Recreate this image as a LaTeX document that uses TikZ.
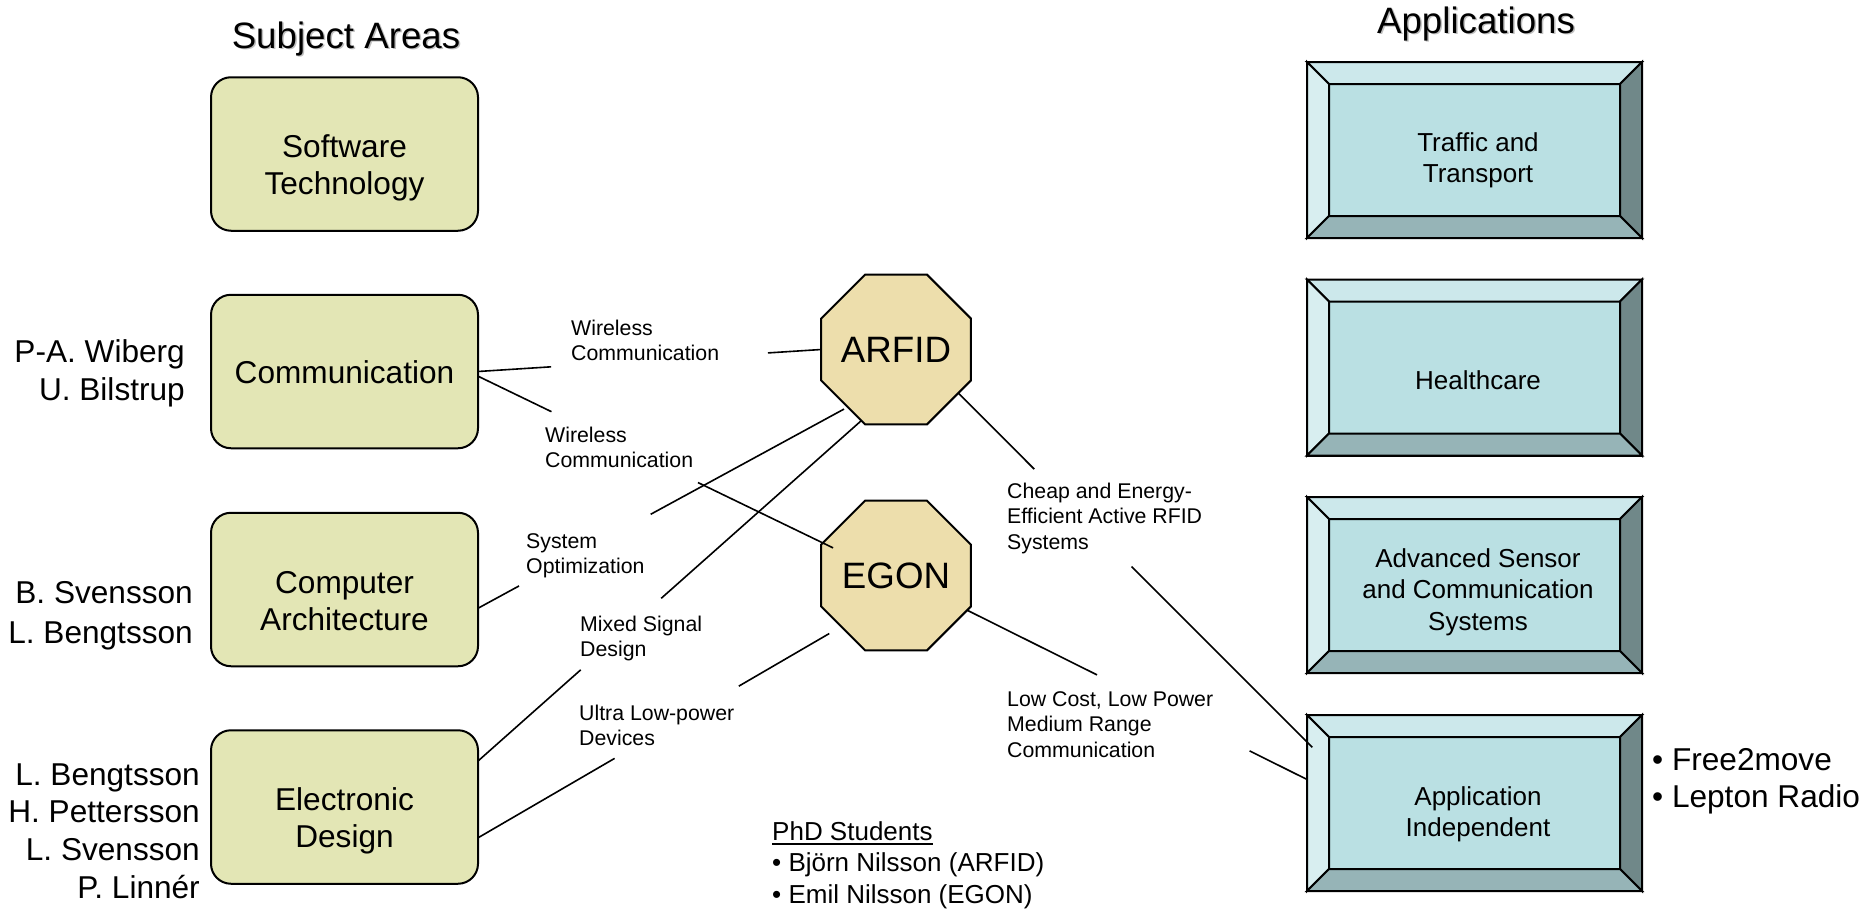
\documentclass[tikz,border=0pt]{standalone}
\usepackage{fontspec}
\setmainfont{Liberation Sans}
\usetikzlibrary{shapes.geometric,calc}
\definecolor{subjfill}{RGB}{227,230,181}
\definecolor{octfill}{RGB}{237,222,172}
\definecolor{appface}{RGB}{186,224,227}
\definecolor{apptop}{RGB}{204,232,235}
\definecolor{appleft}{RGB}{216,238,240}
\definecolor{appbottom}{RGB}{150,180,183}
\definecolor{appright}{RGB}{112,136,137}
\newcommand\mytab[2]{\begin{tabular}[t]{@{}#1@{}}#2\end{tabular}}
\newcommand\myul[1]{\setbox0\hbox{#1}\rlap{\rule[-5pt]{\wd0}{1.7pt}}\box0}
\newcommand\bevel[1]{%
 \filldraw[bevelline,fill=apptop] (#1.north west) -- (#1.north east) -- ([shift={(-22,22)}]#1.north east) -- ([shift={(22,22)}]#1.north west) -- cycle;
 \filldraw[bevelline,fill=appleft] (#1.north west) -- ([shift={(22,22)}]#1.north west) -- ([shift={(22,-22)}]#1.south west) -- (#1.south west) -- cycle;
 \filldraw[bevelline,fill=appright] (#1.north east) -- (#1.south east) -- ([shift={(-22,-22)}]#1.south east) -- ([shift={(-22,22)}]#1.north east) -- cycle;
 \filldraw[bevelline,fill=appbottom] (#1.south west) -- ([shift={(22,-22)}]#1.south west) -- ([shift={(-22,-22)}]#1.south east) -- (#1.south east) -- cycle;}
\newcommand\gapline[5]{%
 \draw[conn] (#1) -- ($(#1)!#3!(#2)$);
 \draw[conn] ($(#1)!#4!(#2)$) -- ($(#1)!#5!(#2)$);}
\tikzset{
 subj/.style={draw, line width=2pt, fill=subjfill, rounded corners=20pt, minimum width=267pt, minimum height=153.5pt, inner sep=0pt, outer sep=0pt},
 oct/.style={draw, line width=2pt, fill=octfill, regular polygon, regular polygon sides=8, minimum size=162pt, inner sep=0pt, outer sep=0pt},
 octtxt/.style={inner sep=0pt, font=\fontsize{36.7}{44}\selectfont},
 appbox/.style={draw, line width=2pt, fill=appface, minimum width=335pt, minimum height=176pt, inner sep=0pt, outer sep=0pt},
 bevelline/.style={draw, line width=2pt, line join=miter},
 conn/.style={line width=1.6pt},
 lbl/.style={inner sep=0pt, anchor=base west, font=\fontsize{21.3}{25.5}\selectfont},
 boxtxt/.style={inner sep=0pt, anchor=base, font=\fontsize{31.6}{37}\selectfont},
 apptxt/.style={inner sep=0pt, anchor=base, font=\fontsize{26}{31.7}\selectfont},
 names/.style={inner sep=0pt, anchor=base east, font=\fontsize{31.6}{38}\selectfont},
 title/.style={inner sep=0pt, anchor=base, font=\fontsize{36.7}{44}\selectfont},
}
\begin{document}
\begin{tikzpicture}[x=1pt,y=-1pt]
\useasboundingbox (0,0) rectangle (1862,910);
% titles
\node[title, text=black!25] (subjsh) at (347.5,49.5) {Subject Areas};
\node[title] (subjtitle) at (346,48) {Subject Areas};
\node[title, text=black!25] (appsh) at (1477.5,34.5) {Applications};
\node[title] (apptitle) at (1476,33) {Applications};
% subject boxes
\node[subj] (sw) at (344.5,154) {};
\node[subj] (comm) at (344.5,371.5) {};
\node[subj] (comp) at (344.5,589.5) {};
\node[subj] (elec) at (344.5,807) {};
\node[boxtxt] (swtxt) at (344.5,157) {\mytab{c}{Software\\Technology}};
\node[boxtxt] (commtxt) at (344.5,383) {Communication};
\node[boxtxt] (comptxt) at (344.5,593) {\mytab{c}{Computer\\Architecture}};
\node[boxtxt] (electxt) at (344.5,810) {\mytab{c}{Electronic\\Design}};
% names
\node[names] (n1) at (185,362) {\mytab{r}{P-A. Wiberg\\U. Bilstrup}};
\node[names, font=\fontsize{31.6}{40}\selectfont] (n2) at (193,603) {\mytab{r}{B. Svensson\\L. Bengtsson}};
\node[names, font=\fontsize{31.6}{37.7}\selectfont] (n3) at (200,785) {\mytab{r}{L. Bengtsson\\H. Pettersson\\L. Svensson\\P. Linnér}};
% octagons
\node[oct] (arfid) at (896,349.5) {};
\node[octtxt] (arfidtxt) at (arfid.center) {ARFID};
\node[oct] (egon) at (896,575.5) {};
\node[octtxt] (egontxt) at (egon.center) {EGON};
% application boxes
\node[appbox] (traffic) at (1474.5,150) {};
\bevel{traffic}
\node[appbox] (health) at (1474.5,367.5) {};
\bevel{health}
\node[appbox] (adv) at (1474.5,585) {};
\bevel{adv}
\node[appbox] (appind) at (1474.5,803) {};
\bevel{appind}
\node[apptxt] (traffictxt) at (1478,151) {\mytab{c}{Traffic and\\Transport}};
\node[apptxt] (healthtxt) at (1478,389) {Healthcare};
\node[apptxt, font=\fontsize{26}{31.5}\selectfont] (advtxt) at (1478,567) {\mytab{c}{Advanced Sensor\\and Communication\\Systems}};
\node[apptxt] (appindtxt) at (1478,805) {\mytab{c}{Application\\Independent}};
\node[names, anchor=base west, font=\fontsize{31.6}{37}\selectfont] (products) at (1652,770) {\mytab{l}{• Free2move\\• Lepton Radio}};
% phd students
\node[apptxt, anchor=base west, font=\fontsize{26}{31.5}\selectfont] (phd) at (772,840) {\mytab{l}{\myul{PhD Students}\\• Björn Nilsson (ARFID)\\• Emil Nilsson (EGON)}};
% connector labels
\node[lbl] (l1) at (571,335) {\mytab{l}{Wireless\\Communication}};
\node[lbl] (l2) at (545,442) {\mytab{l}{Wireless\\Communication}};
\node[lbl] (l3) at (526,548) {\mytab{l}{System\\Optimization}};
\node[lbl] (l4) at (580,631) {\mytab{l}{Mixed Signal\\Design}};
\node[lbl] (l5) at (579,720) {\mytab{l}{Ultra Low-power\\Devices}};
\node[lbl] (l6) at (1007,498) {\mytab{l}{Cheap and Energy-\\Efficient Active RFID\\Systems}};
\node[lbl] (l7) at (1007,706) {\mytab{l}{Low Cost, Low Power\\Medium Range\\Communication}};
% connectors
\gapline{comm.east}{arfid.west}{0.213}{0.845}{1}
\gapline{comm.-2}{egon.156}{0.213}{0.638}{1.03}
\gapline{comp.-8}{arfid.230}{0.111}{0.467}{0.99}
\gapline{elec.19}{arfid.244}{0.268}{0.478}{1}
\gapline{elec.-13}{egon.223}{0.376}{0.718}{0.967}
\gapline{arfid.-35}{appind.160}{0.218}{0.497}{1.015}
\gapline{egon.-26}{appind.172}{0.382}{0.831}{1}
\end{tikzpicture}
\end{document}
